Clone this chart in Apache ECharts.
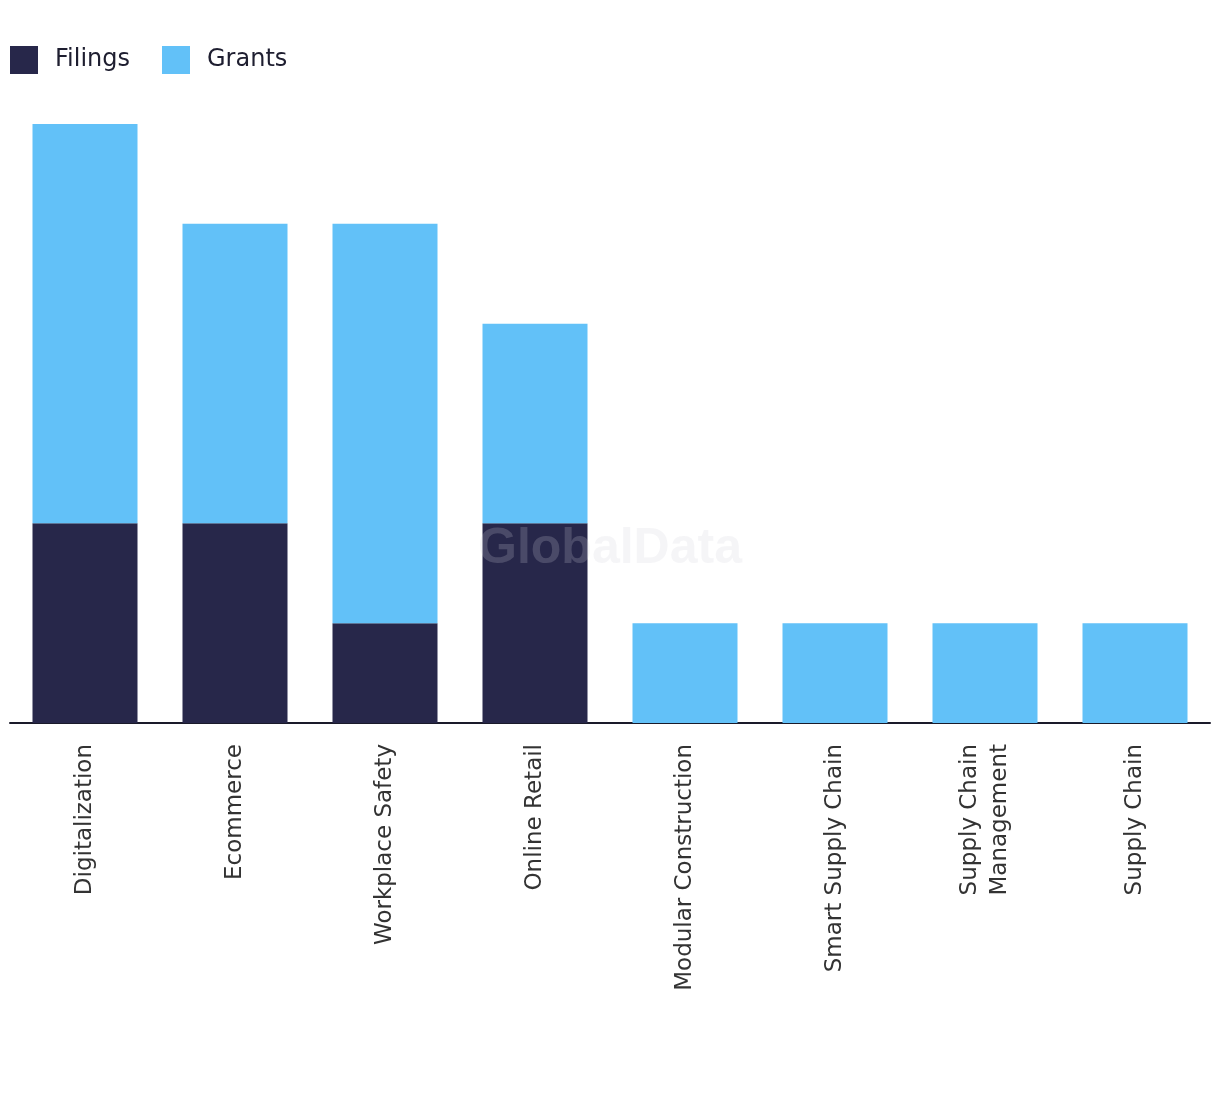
<!DOCTYPE html>
<html><head><meta charset="utf-8">
<script src="https://cdn.jsdelivr.net/npm/echarts@6/dist/echarts.min.js"></script>
<style>html,body{margin:0;padding:0;background:#fff}#c{width:1220px;height:1094px}</style>
</head><body><div id="c"></div>
<script>
const categories = ["Digitalization","Ecommerce","Workplace Safety","Online Retail","Modular Construction","Smart Supply Chain","Supply Chain\nManagement","Supply Chain"];
const filings = [2,2,1,2,0,0,0,0];
const grants = [4,3,4,2,1,1,1,1];
const font = "DejaVu Sans";
const chart = echarts.init(document.getElementById('c'));
chart.setOption({
  animation:false,
  textStyle:{fontFamily:font},
  legend:{left:10,top:46,padding:0,itemWidth:28,itemHeight:28,itemGap:32,icon:'rect',
    textStyle:{fontSize:24,color:'#1e1e30',fontFamily:font,padding:[0,0,0,12]},
    data:['Filings','Grants']},
  grid:{left:10,right:10,top:124,bottom:371,containLabel:false},
  xAxis:{type:'category',data:categories,
    axisLine:{lineStyle:{color:'#1a1a2a',width:2}},axisTick:{show:false},
    axisLabel:{rotate:90,fontSize:23,color:'#333',margin:21,interval:0,lineHeight:30,align:'right',fontFamily:font}},
  yAxis:{type:'value',min:0,max:6,show:false,splitLine:{show:false}},
  series:[
    {name:'Filings',type:'bar',stack:'a',data:filings,barWidth:'70%',itemStyle:{color:'#27274a'}},
    {name:'Grants',type:'bar',stack:'a',data:grants,barWidth:'70%',itemStyle:{color:'#62c1f8'}}
  ],
  graphic:[{type:'text',left:'center',top:524,z:100,
    style:{text:'GlobalData',font:'bold 50px "Liberation Sans"',fill:'rgba(207,207,215,0.21)'}}]
});
</script></body></html>
